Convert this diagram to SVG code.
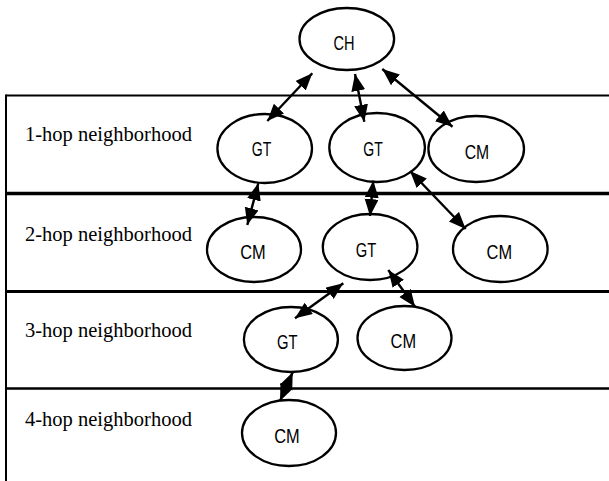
<svg xmlns="http://www.w3.org/2000/svg" width="609" height="481" viewBox="0 0 609 481">
<style>
.band{stroke:#000;fill:none}
.node ellipse{fill:#fff;stroke:#000;stroke-width:2.3}
.node text{font-family:"Liberation Sans",Arial,sans-serif;font-size:20px;fill:#000;text-anchor:middle}
.lbl{font-family:"Liberation Serif","Times New Roman",serif;font-size:21px;fill:#000}
.conn line{stroke:#000;stroke-width:2.4;marker-start:url(#ah);marker-end:url(#ah)}
</style>
<defs>
<marker id="ah" markerUnits="userSpaceOnUse" markerWidth="18" markerHeight="15" refX="17" refY="7" orient="auto-start-reverse" viewBox="0 0 18 15">
<path d="M0,0 L17,7 L0,14 z" fill="#000"/>
</marker>
</defs>
<rect width="609" height="481" fill="#fff"/>
<g id="bands">
<line class="band" x1="6" y1="95.5" x2="609" y2="95.5" stroke-width="2"/>
<line class="band" x1="6" y1="193.5" x2="609" y2="193.5" stroke-width="3.5"/>
<line class="band" x1="6" y1="291.5" x2="609" y2="291.5" stroke-width="2.8"/>
<line class="band" x1="6" y1="388.5" x2="609" y2="388.5" stroke-width="2.5"/>
<line class="band" x1="6" y1="94.5" x2="6" y2="481" stroke-width="2"/>
<text class="lbl" x="25" y="141" textLength="167" lengthAdjust="spacingAndGlyphs">1-hop neighborhood</text>
<text class="lbl" x="25" y="241" textLength="167" lengthAdjust="spacingAndGlyphs">2-hop neighborhood</text>
<text class="lbl" x="25" y="336.5" textLength="167" lengthAdjust="spacingAndGlyphs">3-hop neighborhood</text>
<text class="lbl" x="25" y="426" textLength="167" lengthAdjust="spacingAndGlyphs">4-hop neighborhood</text>
</g>
<g id="ch" class="node"><ellipse cx="346.8" cy="39" rx="47.3" ry="31"/><text x="344" y="49.5" textLength="21" lengthAdjust="spacingAndGlyphs">CH</text></g>
<g id="gt1a" class="node"><ellipse cx="264.7" cy="148.5" rx="47.3" ry="34.5"/><text x="261.5" y="155.5" textLength="19.5" lengthAdjust="spacingAndGlyphs">GT</text></g>
<g id="gt1b" class="node"><ellipse cx="377.1" cy="147.5" rx="47.8" ry="34.5"/><text x="373" y="155.5" textLength="19.5" lengthAdjust="spacingAndGlyphs">GT</text></g>
<g id="cm1" class="node"><ellipse cx="476.2" cy="149" rx="47.8" ry="33"/><text x="477" y="158.5" textLength="24.5" lengthAdjust="spacingAndGlyphs">CM</text></g>
<g id="cm2a" class="node"><ellipse cx="254" cy="249.5" rx="47" ry="32.5"/><text x="253" y="258.5" textLength="25.5" lengthAdjust="spacingAndGlyphs">CM</text></g>
<g id="gt2" class="node"><ellipse cx="370.1" cy="247" rx="47.3" ry="33"/><text x="366" y="256.5" textLength="20.5" lengthAdjust="spacingAndGlyphs">GT</text></g>
<g id="cm2b" class="node"><ellipse cx="500.3" cy="249" rx="47.3" ry="33"/><text x="499.3" y="258.5" textLength="25.5" lengthAdjust="spacingAndGlyphs">CM</text></g>
<g id="gt3" class="node"><ellipse cx="290.9" cy="339.5" rx="47" ry="32.5"/><text x="287.2" y="348.5" textLength="20.5" lengthAdjust="spacingAndGlyphs">GT</text></g>
<g id="cm3" class="node"><ellipse cx="404.5" cy="338" rx="47" ry="32"/><text x="403.3" y="347.5" textLength="25.5" lengthAdjust="spacingAndGlyphs">CM</text></g>
<g id="cm4" class="node"><ellipse cx="289" cy="433" rx="47" ry="33"/><text x="287" y="442.5" textLength="25.5" lengthAdjust="spacingAndGlyphs">CM</text></g>
<g id="connectors" class="conn">
<line x1="312.3" y1="73.3" x2="267.3" y2="121"/>
<line x1="355" y1="74" x2="364.3" y2="121.7"/>
<line x1="382.3" y1="69" x2="452.5" y2="126.7"/>
<line x1="258.3" y1="183.3" x2="247.3" y2="225"/>
<line x1="373.3" y1="180.7" x2="370" y2="216"/>
<line x1="410" y1="171" x2="465.7" y2="229"/>
<line x1="343.3" y1="283.3" x2="295" y2="318.3"/>
<line x1="388.3" y1="270" x2="415" y2="306.7"/>
<line x1="292.7" y1="372.3" x2="280" y2="401"/>
</g>
</svg>
